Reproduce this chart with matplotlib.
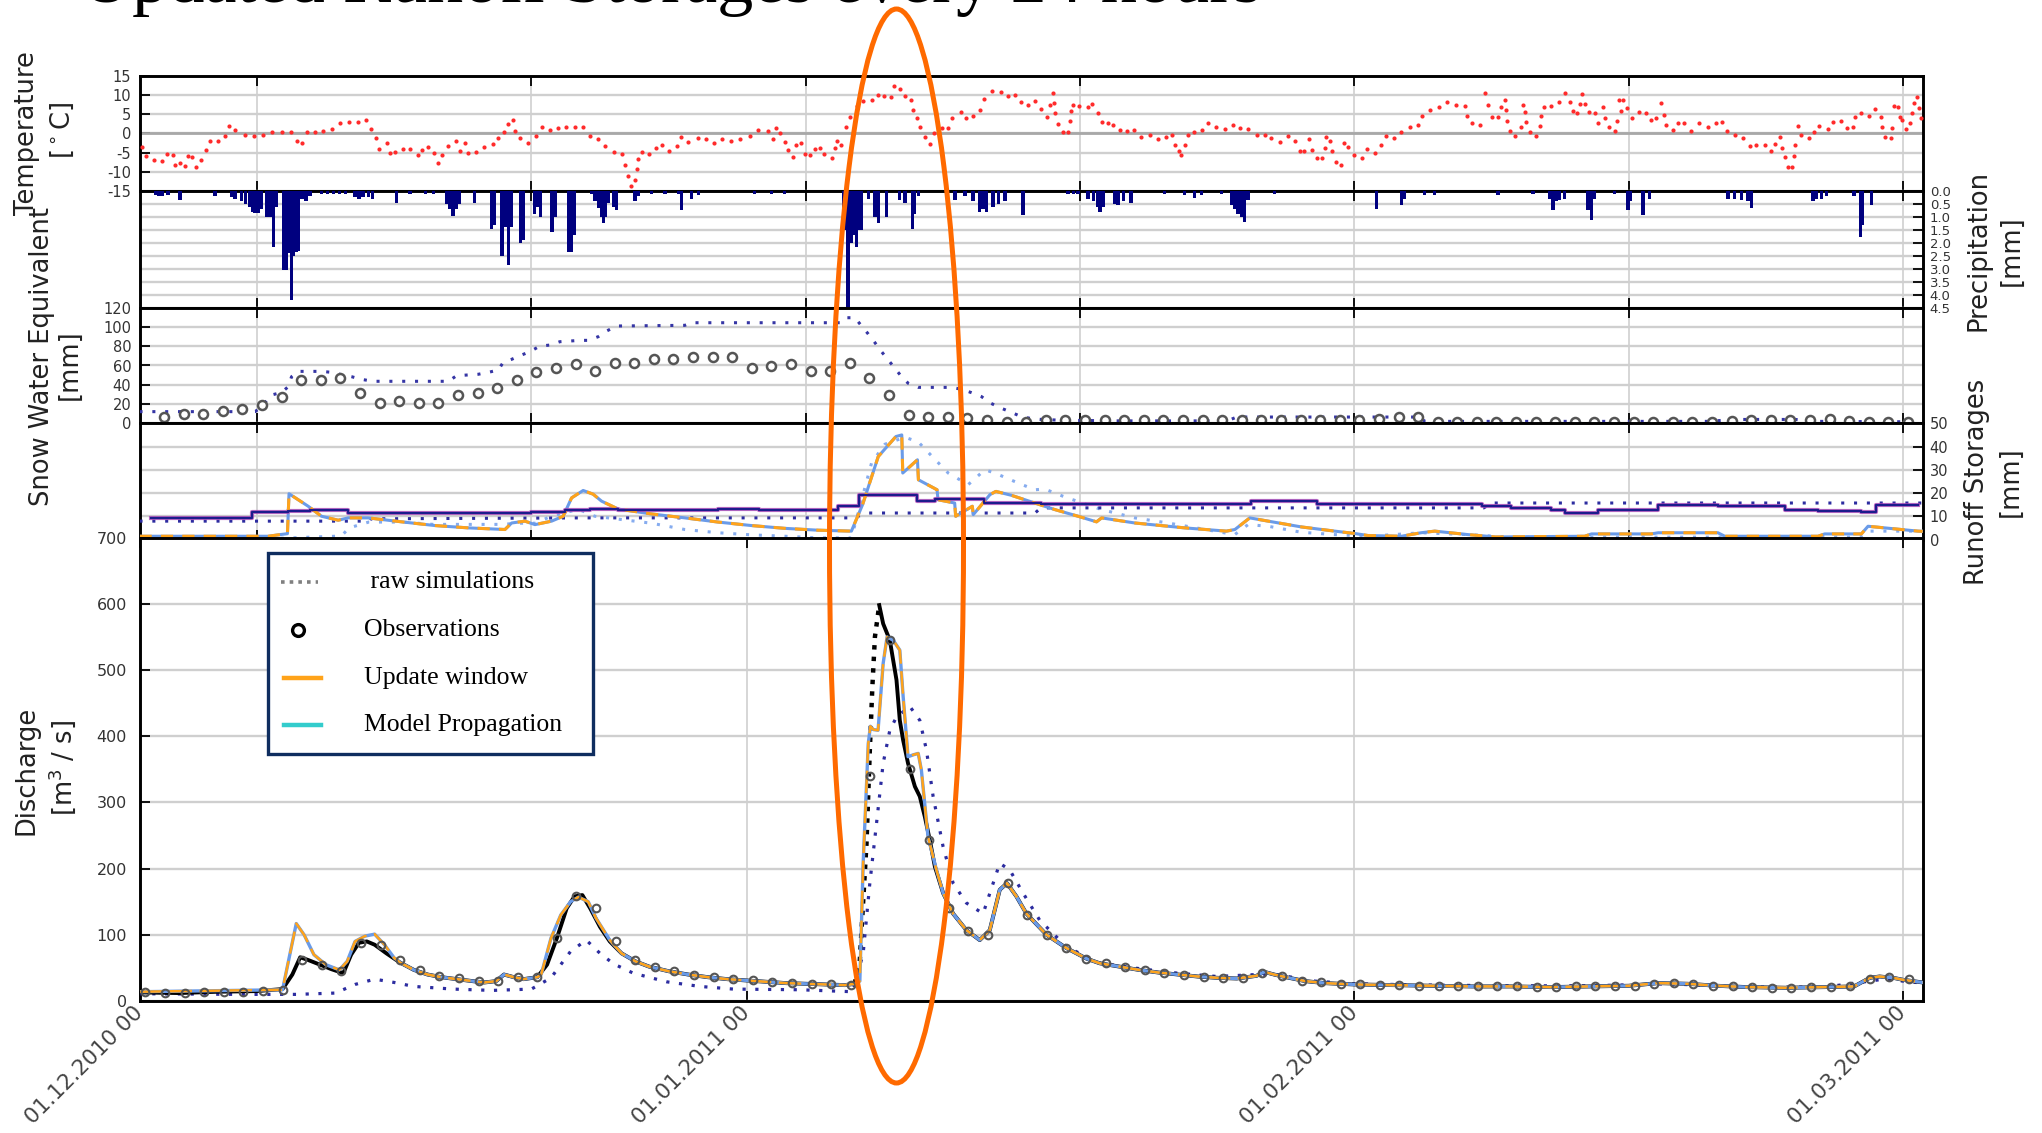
import numpy as np
import matplotlib
matplotlib.use('Agg')
import matplotlib.pyplot as plt
import matplotlib.dates as mdates
from matplotlib.patches import Ellipse, Rectangle
from matplotlib.lines import Line2D
from datetime import datetime

plt.rcParams['axes.unicode_minus'] = False
plt.rcParams['font.family'] = ['DejaVu Sans']

# ---------------- data (day offsets from 01.12.2010 00:00) ----------------
temp_day = [
    0.11, 0.31, 0.74, 1.16, 1.42, 1.73, 1.81, 2.07, 2.32, 2.49,
    2.70, 2.88, 3.14, 3.38, 3.58, 3.99, 4.36, 4.57, 4.87, 5.38,
    5.86, 6.32, 6.78, 7.25, 7.71, 8.02, 8.27, 8.53, 8.95, 9.38,
    9.80, 10.23, 10.71, 11.13, 11.54, 11.81, 12.05, 12.22, 12.61, 12.78,
    13.04, 13.46, 13.80, 14.19, 14.40, 14.74, 15.04, 15.25, 15.42, 15.76,
    16.15, 16.35, 16.61, 16.78, 17.17, 17.58, 18.05, 18.31, 18.61, 18.82,
    19.04, 19.16, 19.41, 19.84, 20.21, 20.52, 20.94, 21.37, 21.79, 22.22,
    22.64, 22.98,
    23.41, 23.78, 24.23, 24.60, 24.77, 24.94, 25.08, 25.28, 25.37, 25.45,
    25.66, 25.99, 26.34, 26.68, 27.02, 27.41, 27.61, 28.00, 28.48, 28.89,
    29.33, 29.74, 30.21, 30.67, 31.15, 31.57, 32.08, 32.34, 32.47, 32.68,
    32.93, 33.10, 33.36, 33.48, 33.75, 33.95, 34.21, 34.46, 34.72, 34.94,
    35.35, 35.49, 35.62, 35.79, 36.05, 36.28, 36.64, 36.93, 37.39, 37.70,
    38.00, 38.34, 38.51, 38.80, 39.06, 39.36, 39.48, 39.69, 39.82, 40.08,
    40.33, 40.55, 40.93, 41.27, 41.47, 41.90, 42.17, 42.54, 42.90, 43.10,
    43.48, 43.95, 44.33, 44.70, 45.01, 45.35, 45.69, 46.00,
    46.29, 46.46, 46.63, 46.68, 46.74, 46.85, 47.14, 47.39, 47.48, 47.52,
    47.65, 47.95, 48.38, 48.63, 48.92, 49.14, 49.43, 49.69, 50.03, 50.37,
    50.74, 51.13, 51.56, 51.98, 52.36, 52.70, 52.83, 53.04, 53.17, 53.34,
    53.51, 53.82, 54.24, 54.53, 54.96, 55.38, 55.81, 56.18, 56.57, 57.05,
    57.42, 57.76, 58.19, 58.61, 58.99, 59.21, 59.43, 59.67, 59.84, 60.11,
    60.35, 60.49, 60.57, 60.74, 60.88, 61.08, 61.34, 61.47, 61.68, 61.98,
    62.39, 62.65, 63.04, 63.38, 63.60, 64.01, 64.40, 64.86, 65.25, 65.47,
    65.84, 66.30, 66.73, 67.20, 67.63, 67.76, 68.00, 68.39,
    68.65, 68.82, 69.02, 69.33, 69.50, 69.67, 69.76, 69.81, 69.93, 70.21,
    70.49, 70.61, 70.69, 70.78, 70.95, 71.25, 71.46, 71.51, 71.68, 72.05,
    72.43, 72.73, 72.99, 73.16, 73.38, 73.50, 73.62, 73.75, 73.96, 74.26,
    74.43, 74.69, 74.81, 74.98, 75.28, 75.42, 75.50, 75.58, 75.71, 75.93,
    76.18, 76.52, 76.90, 77.15, 77.41, 77.66, 77.78, 77.92, 78.26, 78.51,
    78.80, 79.19, 79.59, 80.04, 80.47, 80.76, 81.03, 81.44, 81.83, 82.17,
    82.51, 82.94, 83.28, 83.48, 83.70, 83.82, 83.96, 84.13, 84.33, 84.43,
    84.47, 84.64, 84.81, 85.18, 85.45, 85.71, 86.17, 86.42, 86.81, 87.15,
    87.44, 87.56, 87.87, 88.24, 88.58, 88.85, 88.92, 89.09, 89.36, 89.43,
    89.53, 89.74, 89.82, 89.94, 90.16, 90.33, 90.45, 90.55, 90.71, 90.81,
    90.89]
temp_c = [
    -3.6, -5.9, -6.9, -7.1, -5.4, -5.6, -8.2, -7.6, -8.5, -5.9,
    -6.2, -8.8, -6.9, -4.3, -1.9, -1.9, -0.6, 2.0, 0.9, -0.4,
    -0.6, -0.4, 0.3, 0.3, 0.3, -1.9, -2.4, 0.3, 0.3, 0.7,
    1.1, 2.6, 3.0, 2.9, 3.5, 1.1, -1.3, -4.1, -2.6, -5.2,
    -4.8, -4.2, -4.2, -5.6, -4.3, -3.5, -5.2, -7.8, -5.6, -3.3,
    -1.9, -4.5, -2.6, -5.2, -4.8, -3.6, -2.8, -1.1, 0.4, 2.4,
    3.5, 0.6, -1.3, -2.4, -0.7, 1.6, 0.9, 1.3, 1.6, 1.6,
    1.6, -0.6,
    -1.5, -3.3, -4.8, -5.5, -8.2, -11.1, -13.7, -12.1, -9.4, -6.8,
    -4.8, -5.4, -3.9, -3.0, -4.6, -3.3, -1.0, -2.2, -1.1, -1.6,
    -2.6, -1.6, -2.0, -1.5, -0.7, 0.9, 0.6, -1.5, 1.3, 0.0,
    -2.3, -4.3, -6.1, -3.0, -2.4, -5.4, -5.6, -4.2, -3.7, -5.4,
    -6.5, -3.9, -2.0, -3.0, 1.7, 4.3, 7.1, 8.5, 8.8, 10.1,
    9.8, 9.5, 12.3, 11.5, 9.7, 8.7, 6.1, 3.9, 1.6, -0.9,
    -2.9, 0.0, 1.3, 1.5, 3.9, 5.5, 4.1, 4.5, 6.2, 8.9,
    11.0, 10.8, 9.8, 10.1, 8.1, 7.5, 8.5, 6.3,
    4.3, 7.4, 10.4, 7.8, 5.2, 2.4, 0.4, 0.4, 3.2, 5.9,
    7.4, 7.2, 6.9, 7.6, 5.4, 2.9, 2.6, 2.3, 0.9, 0.6,
    1.0, -1.0, -0.4, -1.5, -1.0, -0.4, -3.0, -4.6, -5.6, -3.0,
    -0.4, 0.4, 1.0, 2.8, 1.7, 1.1, 2.3, 1.3, 1.1, -0.3,
    -0.4, -1.3, -2.3, -0.7, -2.0, -4.6, -4.6, -1.5, -4.3, -6.3,
    -6.5, -3.7, -0.9, -1.9, -4.6, -7.5, -8.2, -2.6, -3.6, -5.6,
    -6.3, -4.1, -5.2, -3.0, -0.6, -1.3, 0.4, 1.6, 2.2, 4.6,
    6.2, 6.9, 8.1, 7.5, 7.2, 4.5, 2.8, 2.2,
    10.4, 7.4, 4.3, 4.2, 6.8, 8.8, 6.1, 3.3, 0.6, -0.7,
    1.6, 7.4, 5.6, 3.0, 0.4, -0.6, 1.9, 4.6, 6.8, 7.2,
    8.2, 10.4, 8.2, 5.9, 5.2, 7.6, 10.2, 7.6, 5.5, 5.4,
    2.6, 6.8, 4.1, 1.7, 0.6, 3.2, 8.7, 5.8, 8.7, 6.5,
    4.1, 5.6, 5.2, 3.5, 3.9, 7.8, 4.8, 2.2, 0.9, 2.6,
    2.6, 0.7, 2.6, 1.7, 2.8, 2.9, 0.7, -0.4, -1.3, -3.3,
    -3.0, -3.0, -4.6, -2.8, -0.9, -3.9, -6.2, -8.8, -8.7, -5.9,
    -3.0, 2.0, -0.4, -1.3, 0.3, 1.9, 1.1, 3.0, 3.3, 1.3,
    1.7, 4.3, 5.2, 4.5, 6.3, 4.3, 1.7, -0.9, -1.3, 1.5,
    7.1, 6.9, 4.2, 3.6, 1.1, 2.6, 5.4, 8.0, 9.5, 6.7,
    4.1]

precip_day = [
    0.8, 1.0, 1.15, 1.45, 2.07, 3.85, 4.7, 4.87, 5.2, 5.4,
    5.6, 5.75, 5.9, 6.05, 6.2, 6.5, 6.7, 6.85, 7.0, 7.35,
    7.5, 7.6, 7.75, 7.87, 8.0, 8.1, 8.3, 8.5, 8.7, 9.3,
    9.6, 9.9, 10.2, 10.5, 11.0, 11.2, 11.4, 11.7, 11.9, 13.1,
    13.8, 14.6, 15.0, 15.7, 15.85, 16.0, 16.15, 16.3, 17.1, 17.95,
    18.1, 18.5, 18.65, 18.82, 18.99, 19.45, 19.6, 20.15, 20.3, 20.45,
    21.05, 21.2, 21.9, 22.05, 22.2, 23.05, 23.24, 23.41, 23.58, 23.67,
    23.75, 23.92, 24.18, 24.35, 25.28, 25.45, 26.13, 26.81, 27.49, 27.66,
    28.17, 28.51, 31.40, 32.25, 32.93, 35.91, 36.05, 36.16, 36.25, 36.33,
    36.45, 36.59, 36.72, 36.85, 37.19, 37.53, 37.70, 38.12, 38.80, 39.06,
    39.45, 39.55, 39.74, 41.61, 42.12, 42.54, 42.88, 43.05, 43.22, 43.56,
    43.82, 44.16, 45.08, 47.39, 47.65, 47.90, 48.41, 48.67, 48.92, 49.01,
    49.18, 49.77, 49.94, 50.20, 50.59, 52.32, 53.34, 53.85, 54.19, 55.21,
    55.72, 55.89, 56.06, 56.23, 56.40, 56.57, 57.93, 63.12, 64.40, 64.55,
    65.59, 66.10, 69.33, 71.12, 71.97, 72.14, 72.31, 72.48, 72.73, 73.92,
    74.09, 74.26, 75.28, 75.96, 76.10, 76.73, 77.07, 81.06, 81.41, 81.75,
    82.09, 82.26, 85.40, 85.57, 85.83, 86.08, 87.49, 87.83, 87.90, 88.38]
precip_mm = [
    0.15, 0.2, 0.2, 0.15, 0.35, 0.2, 0.25, 0.3, 0.4, 0.5,
    0.6, 0.8, 0.85, 0.85, 0.7, 1.0, 1.0, 2.15, 0.6, 3.05,
    3.05, 2.4, 4.2, 2.5, 2.35, 2.3, 0.3, 0.4, 0.2, 0.12,
    0.12, 0.12, 0.1, 0.12, 0.25, 0.3, 0.25, 0.25, 0.3, 0.45,
    0.1, 0.1, 0.1, 0.5, 0.7, 0.95, 0.7, 0.5, 0.45, 1.45,
    1.3, 2.5, 1.4, 2.85, 1.4, 2.0, 1.9, 0.9, 0.6, 1.0,
    1.6, 1.0, 2.35, 2.35, 1.7, 0.1, 0.4, 0.65, 1.0, 1.25,
    1.0, 0.45, 0.6, 0.75, 0.4, 0.2, 0.12, 0.12, 0.12, 0.73,
    0.3, 0.15, 0.12, 0.12, 0.12, 0.73, 1.5, 4.8, 2.0, 2.0,
    1.7, 2.15, 1.5, 1.5, 0.3, 1.0, 1.25, 1.0, 0.35, 0.45,
    1.45, 0.9, 0.2, 0.35, 0.2, 0.4, 0.8, 0.7, 0.8, 0.6,
    0.5, 0.4, 0.92, 0.1, 0.1, 0.1, 0.3, 0.4, 0.6, 0.8,
    0.6, 0.5, 0.55, 0.4, 0.48, 0.1, 0.15, 0.28, 0.15, 0.1,
    0.55, 0.7, 0.9, 1.0, 1.18, 0.35, 0.1, 0.7, 0.55, 0.3,
    0.15, 0.15, 0.15, 0.1, 0.3, 0.73, 0.4, 0.35, 0.3, 0.73,
    1.12, 0.3, 0.1, 0.73, 0.4, 0.92, 0.3, 0.3, 0.3, 0.35,
    0.4, 0.67, 0.4, 0.3, 0.3, 0.2, 0.2, 1.76, 1.3, 0.55]

# daily SWE observations (days 1..90, 06:00)
swe_obs_mm = [
    6.9, 9.3, 9.3, 13.1, 14.9, 19.0, 27.0, 45.0, 45.0, 47.4,
    31.1, 21.4, 23.2, 21.4, 21.4, 29.4, 31.1, 37.0, 45.0, 53.2,
    57.1, 61.2, 54.6, 62.9, 62.9, 67.1, 67.1, 69.2, 69.2, 69.2,
    57.1, 59.1, 61.2, 54.6, 54.6, 62.9, 46.7, 29.4, 8.6, 6.9,
    6.9, 5.2, 3.5, 1.5, 1.5, 3.0, 3.0, 3.0, 3.0, 3.0,
    3.0, 3.0, 3.0, 3.0, 3.0, 3.0, 3.0, 3.0, 3.0, 3.0,
    3.0, 3.0, 4.5, 6.5, 6.5, 1.5, 1.5, 1.5, 1.5, 1.5,
    1.5, 1.5, 1.5, 1.5, 1.5, 1.5, 1.5, 1.5, 1.5, 1.5,
    2.0, 3.0, 3.5, 3.5, 3.5, 4.5, 2.5, 1.5, 1.5, 1.5]
swe_raw_day = [
    0, 5.9, 6.23, 6.74, 7.25, 7.59, 7.76, 8.10, 9.29, 9.80,
    10.31, 10.82, 11.33, 11.93, 15.76, 16.18, 17.29, 17.80, 18.31, 18.56,
    18.99, 19.41, 19.92, 20.43, 20.94, 21.45, 22.47, 22.90, 23.41, 23.84,
    24.35, 27.83, 28.17, 35.83, 36.08, 36.51, 36.85, 37.19, 37.53, 37.87,
    38.21, 38.55, 38.89, 39.23, 39.74, 41.44, 41.95, 42.46, 42.97, 43.39,
    43.90, 44.41, 44.92, 45.43, 45.94, 47.0, 50.0, 55.5, 56.0, 65.3,
    65.6, 80.0, 81.5, 84.5, 85.5, 91.0]
swe_raw_mm = [
    12.1, 12.1, 17.3, 29.4, 32.0, 38.0, 48.4, 53.9, 53.9, 52.9,
    50.5, 48.4, 45.6, 43.6, 43.6, 49.4, 50.9, 52.9, 55.3, 63.3,
    66.4, 70.2, 74.3, 80.2, 81.2, 84.7, 86.1, 86.1, 89.9, 95.8,
    101.0, 101.7, 104.4, 104.4, 109.6, 109.6, 101.0, 92.7, 83.7, 74.3,
    65.7, 57.1, 48.4, 41.5, 37.3, 37.3, 35.3, 31.8, 27.7, 21.4,
    16.3, 12.1, 7.6, 5.2, 4.1, 3.2, 2.5, 2.5, 6.5, 6.5,
    2.0, 2.0, 4.0, 4.0, 2.0, 1.5]

# runoff storages
slow_day = [0.6, 5.72, 7.6, 8.7, 10.65, 20.0, 21.7, 23.0, 24.43, 26.1,
            29.5, 31.6, 35.65, 36.7, 39.7, 40.6, 43.1, 46.0, 56.7, 60.1,
            68.5, 70.0, 72.05, 72.73, 74.43, 77.5, 80.55, 83.96, 85.66, 87.87,
            88.63, 90.76]
slow_mm = [9.3, 11.9, 12.4, 12.6, 11.4, 11.7, 12.6, 13.1, 12.9, 12.6,
           13.1, 12.6, 14.3, 19.3, 16.7, 17.4, 15.7, 15.4, 16.4, 15.3,
           14.3, 13.6, 12.6, 11.4, 12.9, 15.0, 14.3, 12.9, 12.1, 11.7,
           15.0, 15.0]
slow_raw_day = [0, 11.7, 11.8, 22.7, 36.4, 37.2, 45.7, 46.0, 68.6, 69.0, 91.0]
slow_raw_mm = [7.9, 7.9, 8.9, 9.3, 9.3, 11.4, 11.4, 13.6, 13.6, 15.7, 15.7]

fast_day = [0, 6.57, 7.08, 7.55, 7.63, 8.61, 9.29, 10.14, 10.65, 11.67,
            13.38, 15.08, 16.78, 18.65, 18.99, 19.67, 20.18, 21.03, 21.62, 22.05,
            22.64, 23.15, 23.58, 24.43, 26.13, 27.83, 29.53, 31.23, 32.93, 34.63,
            36.33, 36.9, 37.7, 38.6, 38.9, 38.95, 39.7, 39.75, 40.7, 40.75,
            41.6, 41.65, 42.5, 42.55, 43.4, 43.7, 44.5, 45.69, 46.7, 47.9,
            48.84, 49.1, 50.8, 53.34, 55.47, 55.9, 56.66, 57.6, 59.3, 61.0,
            62.0, 62.7, 64.4, 65.4, 66.1, 67.8, 69.2, 73.75, 74.1, 77.15,
            77.5, 80.55, 80.9, 85.66, 86.0, 87.87, 88.21, 90.76, 91.0]
fast_mm = [1.4, 1.4, 2.0, 2.5, 19.7, 14.3, 10.0, 8.3, 9.3, 9.3,
           7.6, 6.0, 5.0, 4.3, 7.1, 7.9, 6.4, 7.9, 10.0, 17.9,
           21.1, 19.5, 16.5, 13.1, 11.0, 9.3, 7.5, 6.0, 4.8, 4.0,
           3.6, 15.0, 35.7, 44.3, 45.0, 28.6, 34.3, 25.7, 21.4, 17.1,
           15.7, 10.0, 14.3, 10.7, 19.3, 20.7, 19.0, 15.7, 12.9, 10.0,
           7.6, 9.3, 7.1, 5.0, 3.6, 4.3, 9.3, 7.9, 5.4, 3.6,
           2.6, 1.7, 1.4, 2.9, 3.6, 2.1, 1.1, 1.4, 2.4, 2.4,
           2.9, 2.9, 1.4, 1.4, 2.4, 2.4, 5.7, 3.6, 3.5]
fast_raw_day = [0, 7.1, 10.3, 10.7, 11.7, 13.4, 15.0, 18.5, 19.3, 20.2,
                21.0, 22.4, 23.24, 26.13, 27.83, 29.53, 31.23, 32.93, 34.63, 36.33,
                36.85, 37.36, 38.04, 39.06, 39.74, 40.42, 41.27, 42.29, 43.14, 43.65,
                44.84, 45.69, 46.2, 47.22, 49.09, 50.79, 52.49, 54.19, 55.89, 56.57,
                57.6, 59.3, 61.0, 62.7, 65.42, 67.8, 70.0, 87.8, 88.2, 91.0]
fast_raw_mm = [0.5, 0.5, 1.5, 5.0, 7.5, 7.5, 6.5, 6.5, 7.0, 7.0,
               10.0, 13.0, 10.0, 7.0, 4.3, 2.9, 2.0, 1.4, 0.7, 0.7,
               17.0, 33.0, 41.0, 44.0, 42.0, 36.0, 28.6, 23.6, 30.0, 28.6,
               24.3, 21.4, 21.7, 18.3, 12.9, 9.3, 7.1, 4.6, 2.1, 6.4,
               5.7, 3.1, 2.1, 1.4, 2.9, 2.1, 1.0, 1.0, 3.6, 3.6]

# discharge
q_obs_day = [0, 2, 4, 6, 7.3, 7.8, 8.2, 8.6, 9.2, 9.8,
             10.4, 10.8, 11.2, 11.6, 12.0, 12.6, 13.3, 14.0, 14.7, 15.4,
             16.2, 17.0, 17.6, 18.2, 18.6, 19.1, 19.6, 20.3, 20.8, 21.3,
             21.8, 22.2, 22.6, 23.0, 23.5, 24.0, 24.6, 25.3, 26.0, 27.0,
             28, 29, 30, 31, 32, 33, 34, 35, 36, 36.5,
             37.75, 37.95, 38.29, 38.63, 38.8, 38.97, 39.22, 39.57, 39.82, 40.08,
             40.33, 40.59, 41.01, 41.52, 42.2, 42.88, 43.39, 43.9, 44.27, 44.75,
             45.26, 46.29, 47.3, 48.33, 49.0, 50, 51, 52, 53, 54,
             55, 56, 57, 57.4, 57.9, 58.5, 59.5, 60.5, 62, 64,
             66, 68, 70, 72, 74, 76, 77.5, 79, 80.5, 82,
             84, 86, 87.5, 88.3, 88.8, 89.5, 90, 91]
q_obs = [13, 12, 14, 15, 18, 40, 66, 62, 55, 48,
         42, 70, 88, 90, 85, 72, 58, 47, 40, 36,
         33, 30, 28, 30, 40, 36, 33, 36, 55, 95,
         140, 158, 160, 140, 112, 90, 72, 60, 52, 45,
         40, 36, 33, 31, 29, 27, 26, 25, 24, 26,
         598, 570, 545, 485, 424, 394, 359, 324, 309, 278,
         243, 203, 163, 132, 107, 92, 107, 168, 178, 158,
         132, 100, 80, 64, 57, 52, 47, 43, 40, 37,
         35, 34, 38, 44, 40, 36, 30, 27, 25, 24,
         23, 22, 22, 21, 22, 23, 27, 26, 23, 21,
         20, 21, 22, 35, 37, 35, 32, 28]
q_rise_day = [36.5, 36.76, 37.1, 37.27, 37.4, 37.53, 37.75]
q_rise = [26, 62, 238, 379, 475, 550, 598]
q_daily = [13, 12, 12, 13, 13, 14, 15, 17, 62, 55,
           45, 88, 84, 62, 47, 38, 34, 30, 30, 36,
           36, 95, 158, 140, 90, 62, 52, 45, 40, 36,
           33, 31, 29, 27, 26, 25, 24, 340, 545, 350,
           243, 140, 105, 100, 178, 130, 100, 80, 64, 57,
           52, 47, 43, 40, 37, 35, 34, 42, 38, 30,
           28, 26, 25, 24, 24, 23, 23, 22, 22, 22,
           22, 21, 21, 22, 22, 23, 23, 26, 27, 26,
           23, 22, 21, 20, 20, 21, 21, 22, 33, 36,
           33]
q_upd_day = [0, 7.3, 7.6, 8.0, 8.4, 8.9, 9.5, 10.2, 10.6, 11.0,
             11.5, 12.0, 12.5, 13.0, 13.3, 14.0, 14.7, 15.4, 16.2, 17.0,
             17.6, 18.2, 18.6, 19.1, 19.6, 20.3, 20.5, 21.0, 21.5, 22.0,
             22.4, 22.9, 23.3, 24.0, 24.6, 25.3, 26.0, 27.0, 28.0, 29.0,
             30.0, 31.0, 32.0, 33.0, 34.0, 35.0, 36.0, 36.5, 36.76, 36.93,
             37.19, 37.3, 37.45, 37.69, 37.95, 38.15, 38.46, 38.8, 38.97, 39.22,
             39.5, 39.74, 39.9, 40.24, 40.67, 41.01, 41.52, 42.2, 42.88, 43.39,
             43.9, 44.27, 44.75, 45.26, 46.29, 47.3, 48.33, 49.0, 50, 51,
             52, 53, 54, 55, 56, 57, 57.4, 57.9, 58.5, 59.5,
             60.5, 62, 64, 66, 68, 70, 72, 74, 76, 77.5,
             79, 80.5, 82, 84, 86, 87.5, 88.3, 88.8, 89.5, 90,
             91]
q_upd = [14, 17, 60, 117, 100, 70, 55, 47, 60, 90,
         98, 101, 85, 65, 58, 47, 40, 36, 33, 30,
         28, 30, 40, 36, 33, 36, 40, 95, 130, 150,
         157, 150, 125, 92, 72, 60, 52, 45, 40, 36,
         33, 31, 29, 27, 26, 25, 24, 26, 30, 208,
         389, 415, 410, 409, 510, 550, 545, 530, 460, 369,
         372, 374, 349, 248, 198, 163, 132, 107, 92, 107,
         168, 178, 158, 132, 100, 80, 64, 57, 52, 47,
         43, 40, 37, 35, 34, 38, 44, 40, 36, 30,
         27, 25, 24, 23, 22, 22, 21, 22, 23, 27,
         26, 23, 21, 20, 21, 22, 35, 37, 35, 32,
         28]
q_raw_day = [0, 5, 8, 10, 11, 12, 13, 14, 16, 18,
             20, 21, 22, 22.8, 23.5, 24.2, 25.2, 26.9, 28.6, 30.3,
             33.7, 36.4, 36.93, 37.27, 37.61, 37.95, 38.29, 38.63, 39.31, 39.82,
             40.16, 40.5, 41.01, 41.52, 42.2, 43.05, 43.9, 44.41, 45.09, 45.94,
             47.3, 49.0, 51, 53, 55, 57, 58, 60, 62, 66,
             70, 74, 78, 82, 86, 88.3, 89, 91]
q_raw = [11, 10, 10, 12, 25, 33, 28, 22, 18, 16,
         18, 35, 75, 92, 72, 56, 42, 29, 22, 18,
         17, 14, 72, 178, 268, 359, 409, 429, 445, 424,
         379, 309, 233, 178, 148, 132, 208, 198, 163, 122,
         82, 57, 49, 42, 37, 40, 40, 30, 26, 24,
         23, 23, 26, 21, 21, 30, 33, 27]

upper_tick_dates = [datetime(2010, 12, 7), datetime(2010, 12, 21), datetime(2011, 1, 4),
                    datetime(2011, 1, 18), datetime(2011, 2, 1), datetime(2011, 2, 15),
                    datetime(2011, 3, 1)]
lower_tick_dates = [datetime(2010, 12, 1), datetime(2011, 1, 1), datetime(2011, 2, 1),
                    datetime(2011, 3, 1)]
lower_tick_labels = ['01.12.2010 00', '01.01.2011 00', '01.02.2011 00', '01.03.2011 00']
legend_labels = [' raw simulations', 'Observations', 'Update window', 'Model Propagation']
title_text = 'Updated Runoff Storages every 24 hours'

# ---------------- figure ----------------
W, H = 2042, 1133
fig = plt.figure(figsize=(W / 100, H / 100), dpi=100)


def fx(px):
    return px / W


def fy(py):
    return 1 - py / H


X0, X1 = 139.5, 1922.7


def add_ax(top, bottom):
    return fig.add_axes([fx(X0), fy(bottom), (X1 - X0) / W, (bottom - top) / H])


axT = add_ax(75.7, 191.0)
axP = add_ax(191.0, 307.7)
axS = add_ax(307.7, 423.3)
axR = add_ax(423.3, 539.5)
axQ = add_ax(537.6, 1001.0)

t0 = mdates.date2num(datetime(2010, 12, 1))


def T(days):
    return t0 + np.asarray(days, dtype=float)


GRID = '#cfcfcf'


def style(ax, xticks, side='left', lsize=10.5):
    for s in ax.spines.values():
        s.set_linewidth(2.1)
        s.set_color('black')
    ax.set_xlim(t0, t0 + 91)
    ax.set_xticks([mdates.date2num(d) for d in xticks])
    ax.tick_params(axis='both', direction='in', length=7, width=1.3, colors='black',
                   labelcolor='#333333', labelsize=lsize)
    ax.tick_params(axis='x', top=True, bottom=True, labelbottom=False, labeltop=False)
    if side == 'left':
        ax.tick_params(axis='y', left=True, right=False, labelleft=True, labelright=False, pad=6)
    else:
        ax.tick_params(axis='y', left=False, right=True, labelleft=False, labelright=True, pad=5)
    ax.grid(True, axis='y', color=GRID, lw=1.7)
    ax.grid(True, axis='x', color=GRID, lw=1.2)
    ax.set_axisbelow(True)


DOT = (0, (1, 3.2))

# Temperature
style(axT, upper_tick_dates, 'left')
axT.set_ylim(-15, 15)
axT.set_yticks([-15, -10, -5, 0, 5, 10, 15])
axT.axhline(0, color='#a8a8a8', lw=2.0, zorder=1)
axT.plot(T(temp_day), temp_c, ls='none', marker='o', ms=3.0, mew=0, color='#ff2b2b', zorder=3)

# Precipitation
style(axP, upper_tick_dates, 'right', lsize=9.5)
axP.bar(T(precip_day), precip_mm, width=0.17, color='#00007f', align='center', zorder=3)
axP.set_ylim(4.5, 0)
axP.set_yticks(np.arange(0, 4.51, 0.5))
axP.yaxis.set_major_formatter(matplotlib.ticker.FormatStrFormatter('%.1f'))

# Snow water equivalent
style(axS, upper_tick_dates, 'left')
axS.set_ylim(0, 120)
axS.set_yticks(np.arange(0, 121, 20))
axS.plot(T(swe_raw_day), swe_raw_mm, color='#3535a5', lw=2.2, ls=DOT, zorder=3)
axS.plot(T(np.arange(1, len(swe_obs_mm) + 1) + 0.25), swe_obs_mm, ls='none', marker='o',
         ms=6.5, mfc='white', mec='#555555', mew=1.8, zorder=4)

# Runoff storages
style(axR, upper_tick_dates, 'right')
axR.set_ylim(0, 50)
axR.set_yticks(np.arange(0, 51, 10))
axR.plot(T(fast_raw_day), fast_raw_mm, color='#86acef', lw=2.2, ls=DOT, zorder=3)
axR.plot(T(slow_raw_day), slow_raw_mm, color='#2c2ca0', lw=2.2, ls=DOT, zorder=3)
axR.plot(T(fast_day), fast_mm, color='#6a9be8', lw=2.2, zorder=4)
axR.plot(T(fast_day), fast_mm, color='#ffa31a', lw=2.2, ls=(0, (4, 3)), zorder=5)
axR.plot(T(slow_day), slow_mm, color='#b048b8', lw=3.0, alpha=0.8, drawstyle='steps-post', zorder=4)
axR.plot(T(slow_day), slow_mm, color='#1c1c8c', lw=1.6, drawstyle='steps-post', zorder=5)

# Discharge
style(axQ, lower_tick_dates, 'left', lsize=11.5)
axQ.tick_params(axis='y', pad=9)
axQ.set_ylim(0, 700)
axQ.set_yticks(np.arange(0, 701, 100))
axQ.tick_params(axis='x', labelbottom=True, pad=6)
axQ.set_xticklabels(lower_tick_labels, rotation=45, ha='right', va='center',
                    rotation_mode='anchor', fontsize=15.5, color='#444444')
qd = np.asarray(q_obs_day)
qo = np.asarray(q_obs)
axQ.plot(T(q_raw_day), q_raw, color='#2c2ca0', lw=2.3, ls=(0, (1, 3)), zorder=3)
axQ.plot(T(qd[qd <= 36.5]), qo[qd <= 36.5], color='black', lw=2.8, zorder=4)
axQ.plot(T(qd[qd >= 37.75]), qo[qd >= 37.75], color='black', lw=2.8, zorder=4)
axQ.plot(T(q_rise_day), q_rise, color='black', lw=3.2, ls=(0, (1, 1.6)), zorder=4)
axQ.plot(T(q_upd_day), q_upd, color='#6a9be8', lw=2.4, zorder=5)
axQ.plot(T(q_upd_day), q_upd, color='#ffa31a', lw=1.8, ls=(0, (9, 3)), zorder=6)
axQ.plot(T(np.arange(len(q_daily)) + 0.3), q_daily, ls='none', marker='o', ms=5.5,
         mfc='none', mec='#555555', mew=1.5, zorder=7)

# ---------------- axis titles ----------------
LBL = dict(rotation=90, ha='center', va='center', fontsize=18.5, color='#222222')
fig.text(fx(27), fy(133), 'Temperature', **LBL)
fig.text(fx(62), fy(130), r'[$^\circ$C]', **LBL)
fig.text(fx(42), fy(357), 'Snow Water Equivalent', **LBL)
fig.text(fx(70), fy(365), '[mm]', **LBL)
fig.text(fx(26), fy(770), 'Discharge', **LBL)
fig.text(fx(62), fy(768), r'[m$^3$ / s]', **LBL)
fig.text(fx(1978), fy(250), 'Precipitation', **LBL)
fig.text(fx(2012), fy(251), '[mm]', **LBL)
fig.text(fx(1977), fy(482), 'Runoff Storages', **LBL)
fig.text(fx(2011), fy(482), '[mm]', **LBL)

# title (cut by the top edge, as in the slide)
fig.text(fx(80), fy(2), title_text, fontsize=52, family='Liberation Serif',
         ha='left', va='baseline', color='black')

# ---------------- legend box ----------------
fig.add_artist(Rectangle((fx(268), fy(754)), (593 - 268) / W, (754 - 553) / H,
                         transform=fig.transFigure, fc='white', ec='#0f2d5f', lw=2.4, zorder=10))
fig.add_artist(Line2D([fx(281), fx(318)], [fy(582), fy(582)], transform=fig.transFigure,
                      color='#808080', lw=2.6, ls=(0, (1, 1.4)), zorder=11))
fig.add_artist(Line2D([fx(298)], [fy(630)], transform=fig.transFigure, ls='none', marker='o',
                      ms=8.5, mfc='white', mec='black', mew=2.4, zorder=11))
fig.add_artist(Line2D([fx(284), fx(321)], [fy(678), fy(678)], transform=fig.transFigure,
                      color='#ffa31a', lw=3.2, zorder=11))
fig.add_artist(Line2D([fx(284), fx(321)], [fy(725), fy(725)], transform=fig.transFigure,
                      color='#33cccc', lw=3.2, zorder=11))
for lab, xx, yy in zip(legend_labels, [364, 364, 364, 364], [582, 630, 678, 725]):
    fig.text(fx(xx), fy(yy), lab, fontsize=18.5, family='Liberation Serif',
             ha='left', va='center', color='black', zorder=12)

# orange highlight ellipse
fig.add_artist(Ellipse((fx(896.5), fy(546)), 134 / W, 1074 / H, transform=fig.transFigure,
                       fill=False, ec='#ff6a00', lw=3.6, zorder=20))

fig.savefig('out.png', dpi=100)
